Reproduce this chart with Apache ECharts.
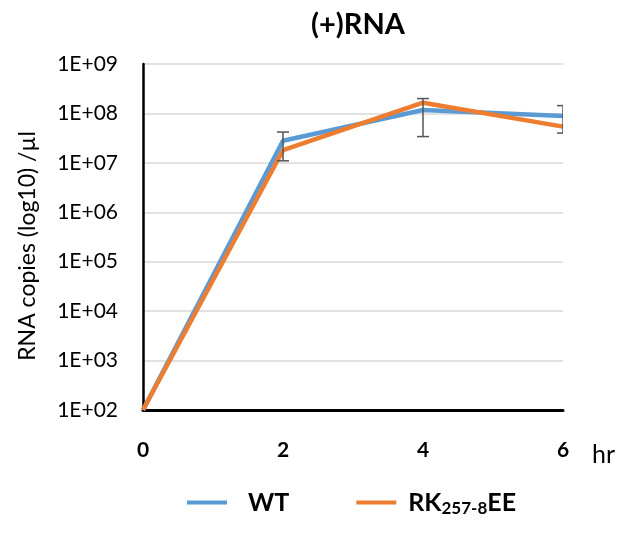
<!DOCTYPE html>
<html>
<head>
<meta charset="utf-8">
<script src="https://cdn.jsdelivr.net/npm/echarts@6/dist/echarts.min.js"></script>
<style>
  html, body { margin: 0; padding: 0; background: #fff; }
  #chart { width: 623px; height: 533px; }
</style>
</head>
<body>
<div id="chart"></div>
<script>
// time points (hr)
const Data_Hours = [0, 2, 4, 6];
// RNA copies per µl
const Data_WT = [100, 2.8e7, 1.17e8, 8.9e7];
const Data_RK = [100, 1.8e7, 1.65e8, 5.4e7];
// error bars (low / high)
const Data_ErrLow = [null, 1.1e7, 3.4e7, 4.0e7];
const Data_ErrHigh = [null, 4.2e7, 2.0e8, 1.44e8];

function renderChart() {
  const dom = document.getElementById('chart');
  const chart = echarts.init(dom);
  const font = 'Lato, "Open Sans", sans-serif';

  const errData = [];
  Data_Hours.forEach((h, i) => {
    if (Data_ErrLow[i] != null) errData.push([h, Data_ErrLow[i], Data_ErrHigh[i]]);
  });

  const option = {
    animation: false,
    textStyle: { fontFamily: font },
    title: {
      text: '(+)RNA',
      left: 353,
      top: 5,
      textAlign: 'center',
      textStyle: { fontSize: 29, fontWeight: 'bold', color: '#000', fontFamily: font },
    },
    legend: {
      bottom: 11,
      left: 182,
      itemWidth: 40,
      itemHeight: 4,
      itemGap: 67,
      icon: 'rect',
      data: ['WT', 'RK'],
      formatter: name => name === 'RK' ? '{r|RK}{s|257-8}{a|EE}' : '{w|WT}',
      textStyle: {
        rich: {
          w: { fontSize: 25, fontWeight: 'bold', color: '#000', fontFamily: font, padding: [0, 0, 0, 16] },
          r: { fontSize: 25, fontWeight: 'bold', color: '#000', fontFamily: font, padding: [0, 0, 0, 7] },
          a: { fontSize: 25, fontWeight: 'bold', color: '#000', fontFamily: font },
          s: { fontSize: 17, fontWeight: 'bold', color: '#000', fontFamily: font, padding: [12, 0, 0, 0] },
        },
      },
    },
    grid: {
      left: 143,
      right: 60,
      top: 64,
      bottom: 123,
    },
    xAxis: {
      type: 'value',
      min: 0,
      max: 6,
      interval: 2,
      name: 'hr',
      nameLocation: 'end',
      nameGap: 29,
      nameTextStyle: { fontSize: 25, color: '#000', verticalAlign: 'top', padding: [32, 0, 0, 0] },
      axisLine: { lineStyle: { color: '#000', width: 3 } },
      axisTick: { show: false },
      splitLine: { show: false },
      axisLabel: { fontSize: 21, fontWeight: 'bold', color: '#000', margin: 30 },
    },
    yAxis: {
      type: 'log',
      logBase: 10,
      min: 100,
      max: 1e9,
      name: 'RNA copies (log10) /µl',
      nameLocation: 'middle',
      nameGap: 104,
      nameTextStyle: { fontSize: 23, color: '#000', padding: [0, 18, 0, 0] },
      axisLine: { show: true, lineStyle: { color: '#000', width: 2.5 } },
      axisTick: { show: false },
      splitLine: { lineStyle: { color: '#d9d9d9', width: 1.5 } },
      axisLabel: {
        fontSize: 21,
        color: '#000',
        margin: 25,
        formatter: v => {
          const e = Math.round(Math.log10(v));
          return '1E+' + (e < 10 ? '0' + e : e);
        },
      },
    },
    series: [
      {
        name: 'WT',
        type: 'line',
        showSymbol: false,
        symbol: 'none',
        data: Data_Hours.map((h, i) => [h, Data_WT[i]]),
        lineStyle: { color: '#5b9bd5', width: 4.5 },
        itemStyle: { color: '#5b9bd5' },
        z: 3,
      },
      {
        name: 'RK',
        type: 'line',
        showSymbol: false,
        symbol: 'none',
        data: Data_Hours.map((h, i) => [h, Data_RK[i]]),
        lineStyle: { color: '#ed7d31', width: 4.5 },
        itemStyle: { color: '#ed7d31' },
        z: 4,
      },
      {
        name: 'err',
        type: 'custom',
        clip: true,
        z: 5,
        data: errData,
        renderItem: (params, api) => {
          const x = api.value(0);
          const lo = api.coord([x, api.value(1)]);
          const hi = api.coord([x, api.value(2)]);
          const w = 6;
          const style = { stroke: '#555', lineWidth: 1.5 };
          return {
            type: 'group',
            children: [
              { type: 'line', shape: { x1: lo[0], y1: lo[1], x2: hi[0], y2: hi[1] }, style },
              { type: 'line', shape: { x1: lo[0] - w, y1: lo[1], x2: lo[0] + w, y2: lo[1] }, style },
              { type: 'line', shape: { x1: hi[0] - w, y1: hi[1], x2: hi[0] + w, y2: hi[1] }, style },
            ],
          };
        },
      },
    ]
  };
  chart.setOption(option, true);
}
renderChart();
</script>
</body>
</html>
